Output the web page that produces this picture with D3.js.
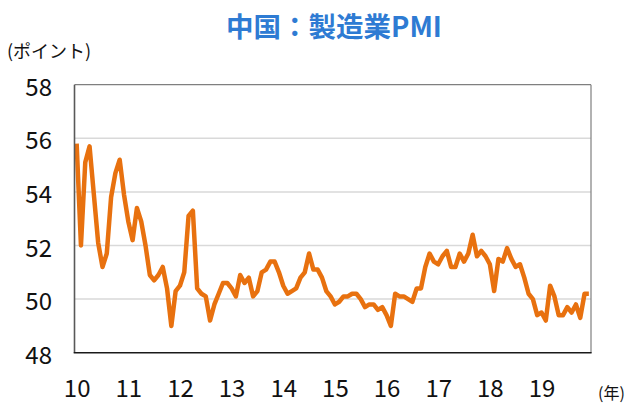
<!DOCTYPE html>
<html><head><meta charset="utf-8">
<script src="https://cdn.jsdelivr.net/npm/d3@7"></script>
<style>body{margin:0;background:#fff}svg{display:block}</style>
</head><body>
<svg id="c" width="636" height="403"></svg>
<script>
const title = "中国：製造業PMI";
const yUnit = "(ポイント)";
const xUnit = "(年)";
const yearLabels = ["10","11","12","13","14","15","16","17","18","19"];
const yTicks = [48,50,52,54,56,58];
const pmi2010 = [55.8,52.0,55.1,55.7,53.9,52.1,51.2,51.7,53.8,54.7,55.2,53.9];
const pmi2011 = [52.9,52.2,53.4,52.9,52.0,50.9,50.7,50.9,51.2,50.4,49.0,50.3];
const pmi2012 = [50.5,51.0,53.1,53.3,50.4,50.2,50.1,49.2,49.8,50.2,50.6,50.6];
const pmi2013 = [50.4,50.1,50.9,50.6,50.8,50.1,50.3,51.0,51.1,51.4,51.4,51.0];
const pmi2014 = [50.5,50.2,50.3,50.4,50.8,51.0,51.7,51.1,51.1,50.8,50.3,50.1];
const pmi2015 = [49.8,49.9,50.1,50.1,50.2,50.2,50.0,49.7,49.8,49.8,49.6,49.7];
const pmi2016 = [49.4,49.0,50.2,50.1,50.1,50.0,49.9,50.4,50.4,51.2,51.7,51.4];
const pmi2017 = [51.3,51.6,51.8,51.2,51.2,51.7,51.4,51.7,52.4,51.6,51.8,51.6];
const pmi2018 = [51.3,50.3,51.5,51.4,51.9,51.5,51.2,51.3,50.8,50.2,50.0,49.4];
const pmi2019 = [49.5,49.2,50.5,50.1,49.4,49.4,49.7,49.5,49.8,49.3,50.2,50.2];
const values = [].concat(pmi2010,pmi2011,pmi2012,pmi2013,pmi2014,pmi2015,pmi2016,pmi2017,pmi2018,pmi2019);

const svg = d3.select("#c");
const L = 74.5, R = 591, T = 84.7, B = 352.7;
const font = "'Noto Sans CJK JP','Noto Sans',sans-serif";

const x = d3.scalePoint().domain(d3.range(values.length)).range([L, R]).padding(0.5);
const y = d3.scaleLinear().domain([48, 58]).range([B, T]);

// gridlines
svg.append("g").selectAll("line").data(yTicks.filter(t => t > 48 && t < 58)).join("line")
  .attr("x1", L).attr("x2", R).attr("y1", d => y(d)).attr("y2", d => y(d))
  .attr("stroke", "#d9d9d9").attr("stroke-width", 1.5);

// frame
svg.append("line").attr("x1", L).attr("x2", R).attr("y1", T).attr("y2", T).attr("stroke", "#7f7f7f").attr("stroke-width", 1.2);
svg.append("line").attr("x1", R).attr("x2", R).attr("y1", T).attr("y2", B).attr("stroke", "#7f7f7f").attr("stroke-width", 1.2);

// line
const line = d3.line().x((d, i) => x(i)).y(d => y(d));
svg.append("path").datum(values).attr("d", line)
  .attr("fill", "none").attr("stroke", "#e8710f").attr("stroke-width", 4.5)
  .attr("stroke-linejoin", "round").attr("stroke-linecap", "butt");

// axes lines
svg.append("line").attr("x1", L).attr("x2", L).attr("y1", T).attr("y2", B).attr("stroke", "#595959").attr("stroke-width", 1.6);
svg.append("line").attr("x1", L - 0.8).attr("x2", R + 0.6).attr("y1", B).attr("y2", B).attr("stroke", "#1a1a1a").attr("stroke-width", 1.6);

// y tick labels
svg.append("g").selectAll("text").data(yTicks).join("text")
  .attr("x", 52).attr("y", d => y(d) + 11)
  .attr("text-anchor", "end").attr("font-family", font).attr("font-size", 24).attr("fill", "#111")
  .text(d => d);

// x labels
svg.append("g").selectAll("text").data(yearLabels).join("text")
  .attr("x", (d, i) => x(i * 12) + 0.5).attr("y", 397)
  .attr("text-anchor", "middle").attr("font-family", font).attr("font-size", 24).attr("fill", "#111")
  .text(d => d);

// units
svg.append("text").attr("x", 7).attr("y", 58).attr("font-family", font).attr("font-size", 18).attr("fill", "#111").text(yUnit);
svg.append("text").attr("x", 598).attr("y", 399).attr("font-family", font).attr("font-size", 16).attr("fill", "#111").text(xUnit);

// title
svg.append("text").attr("x", 334).attr("y", 37).attr("text-anchor", "middle")
  .attr("font-family", font).attr("font-size", 27.5).attr("font-weight", "bold").attr("fill", "#2e7bd3").text(title);
</script>
</body></html>
